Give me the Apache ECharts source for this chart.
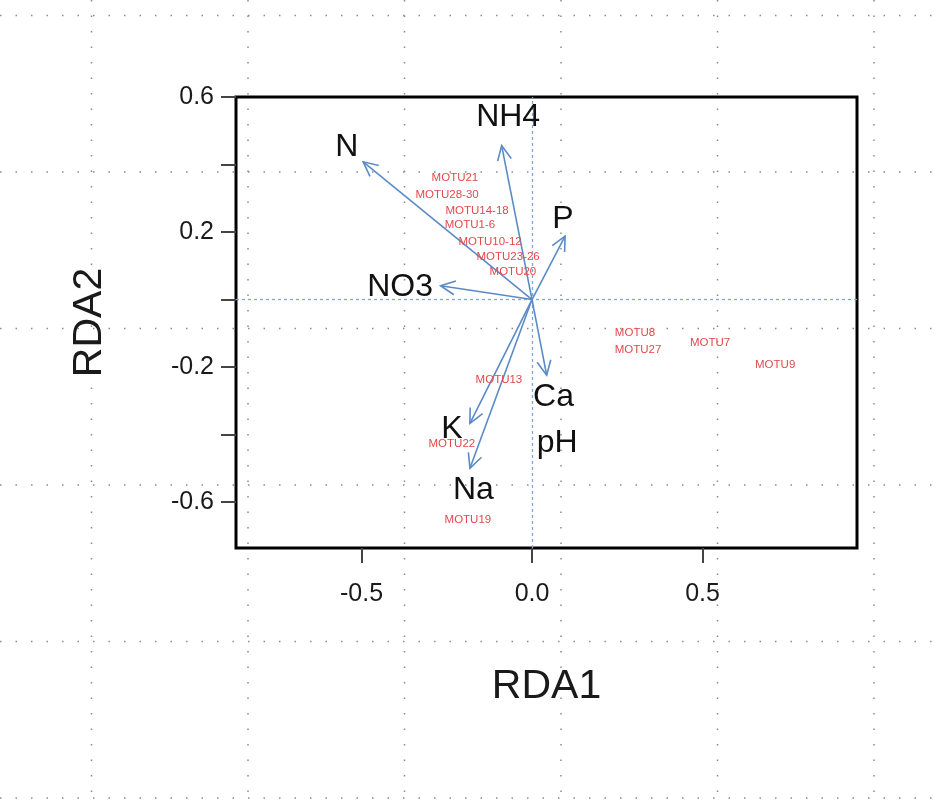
<!DOCTYPE html>
<html>
<head>
<meta charset="utf-8">
<script src="https://cdn.jsdelivr.net/npm/echarts@6/dist/echarts.min.js"></script>
<style>
html,body{margin:0;padding:0;background:#fff;}
#chart{width:934px;height:804px;}
</style>
</head>
<body>
<div id="chart"></div>
<script>
// ---- data ----
const arrowNames = ['N', 'NH4', 'P', 'NO3', 'Ca', 'K', 'Na'];
const arrowX = [-0.495, -0.089, 0.097, -0.268, 0.043, -0.182, -0.182];
const arrowY = [0.408, 0.456, 0.188, 0.041, -0.224, -0.367, -0.500];

const envLabels = ['N', 'NH4', 'P', 'NO3', 'Ca', 'pH', 'K', 'Na'];
const envLabelX = [-0.543, -0.070, 0.091, -0.387, 0.063, 0.074, -0.235, -0.172];
const envLabelY = [0.452, 0.541, 0.239, 0.037, -0.289, -0.425, -0.385, -0.564];

const motuNames = ['MOTU21', 'MOTU28-30', 'MOTU14-18', 'MOTU1-6', 'MOTU10-12', 'MOTU23-26', 'MOTU20',
  'MOTU8', 'MOTU27', 'MOTU7', 'MOTU9', 'MOTU13', 'MOTU22', 'MOTU19'];
const motuX = [-0.226, -0.249, -0.161, -0.182, -0.123, -0.070, -0.056,
  0.302, 0.311, 0.522, 0.713, -0.097, -0.235, -0.188];
const motuY = [0.360, 0.310, 0.264, 0.221, 0.170, 0.126, 0.081,
  -0.099, -0.150, -0.129, -0.194, -0.239, -0.428, -0.653];

const xTicks = [-0.5, 0.0, 0.5];
const yTicks = [-0.6, -0.4, -0.2, 0.0, 0.2, 0.4, 0.6];
const yTickLabels = [-0.6, -0.2, 0.2, 0.6];
const xRange = [-0.868, 0.953];
const yRange = [-0.736, 0.6];

// ---- chart ----
const chart = echarts.init(document.getElementById('chart'));

const arrowData = arrowNames.map((n, i) => [arrowX[i], arrowY[i], n]);
const envData = envLabels.map((n, i) => [envLabelX[i], envLabelY[i], n]);
const motuData = motuNames.map((n, i) => [motuX[i], motuY[i], n]);

const ARROW_COLOR = '#5b8bc6';
const FONT = '"Liberation Sans", Arial, sans-serif';

// background dotted page grid (decoration)
const bg = [];
const vx = [91.5, 248, 404.5, 561, 717.5, 874];
const hy = [15.5, 172, 328.5, 485, 641.5, 798];
vx.forEach(x => bg.push({type: 'line', z: -10, silent: true,
  shape: {x1: x, y1: 0, x2: x, y2: 804},
  style: {stroke: '#8a8a8a', lineWidth: 1.5, lineDash: [1.5, 14]}}));
hy.forEach(y => bg.push({type: 'line', z: -10, silent: true,
  shape: {x1: 0, y1: y, x2: 934, y2: y},
  style: {stroke: '#8a8a8a', lineWidth: 1.5, lineDash: [1.5, 14]}}));

const option = {
  backgroundColor: '#ffffff',
  animation: false,
  graphic: bg,
  grid: {
    left: 236, right: 77, top: 97, bottom: 256,
    show: true, borderColor: '#000', borderWidth: 3, backgroundColor: 'transparent'
  },
  xAxis: {
    type: 'value', min: xRange[0], max: xRange[1],
    name: 'RDA1', nameLocation: 'middle', nameGap: 118,
    nameTextStyle: {fontSize: 41, color: '#1a1a1a', fontFamily: FONT},
    axisLine: {show: false, onZero: false},
    splitLine: {show: false},
    axisTick: {show: true, length: 15, customValues: xTicks, lineStyle: {color: '#444', width: 2}},
    axisLabel: {customValues: xTicks, margin: 34, fontSize: 25, color: '#1a1a1a', fontFamily: FONT,
      formatter: v => v.toFixed(1)}
  },
  yAxis: {
    type: 'value', min: yRange[0], max: yRange[1],
    name: 'RDA2', nameLocation: 'middle', nameGap: 126, nameRotate: 90,
    nameTextStyle: {fontSize: 41, color: '#1a1a1a', fontFamily: FONT},
    axisLine: {show: false, onZero: false},
    splitLine: {show: false},
    axisTick: {show: true, length: 15, customValues: yTicks, lineStyle: {color: '#444', width: 2}},
    axisLabel: {customValues: yTickLabels, margin: 22, fontSize: 25, color: '#1a1a1a', fontFamily: FONT,
      formatter: v => v.toFixed(1), showMaxLabel: true, showMinLabel: true}
  },
  series: [
    {
      type: 'custom',
      name: 'arrows',
      data: arrowData,
      z: 5,
      renderItem: function (params, api) {
        const o = api.coord([0, 0]);
        const t = api.coord([api.value(0), api.value(1)]);
        const ang = Math.atan2(t[1] - o[1], t[0] - o[0]);
        const L = 16, a = 0.45;
        const p1 = [t[0] - L * Math.cos(ang - a), t[1] - L * Math.sin(ang - a)];
        const p2 = [t[0] - L * Math.cos(ang + a), t[1] - L * Math.sin(ang + a)];
        return {
          type: 'group',
          children: [
            {type: 'line', shape: {x1: o[0], y1: o[1], x2: t[0], y2: t[1]},
              style: {stroke: ARROW_COLOR, lineWidth: 1.6}},
            {type: 'polyline', shape: {points: [p1, t, p2]},
              style: {stroke: ARROW_COLOR, lineWidth: 1.6, fill: null}}
          ]
        };
      },
      markLine: {
        silent: true, symbol: 'none', label: {show: false},
        lineStyle: {color: '#7fa6d6', type: [3, 3], width: 1.3},
        data: [{xAxis: 0}, {yAxis: 0}]
      }
    },
    {
      type: 'custom',
      name: 'motu',
      data: motuData,
      z: 6,
      renderItem: function (params, api) {
        const p = api.coord([api.value(0), api.value(1)]);
        return {
          type: 'text', x: p[0], y: p[1],
          style: {text: motuNames[params.dataIndex], fill: '#e5484a', fontSize: 11.5, fontFamily: FONT,
            align: 'center', verticalAlign: 'middle'}
        };
      }
    },
    {
      type: 'custom',
      name: 'env',
      data: envData,
      z: 7,
      renderItem: function (params, api) {
        const p = api.coord([api.value(0), api.value(1)]);
        return {
          type: 'text', x: p[0], y: p[1],
          style: {text: envLabels[params.dataIndex], fill: '#111', fontSize: 32, fontFamily: FONT,
            align: 'center', verticalAlign: 'middle'}
        };
      }
    }
  ]
};
chart.setOption(option);
</script>
</body>
</html>
